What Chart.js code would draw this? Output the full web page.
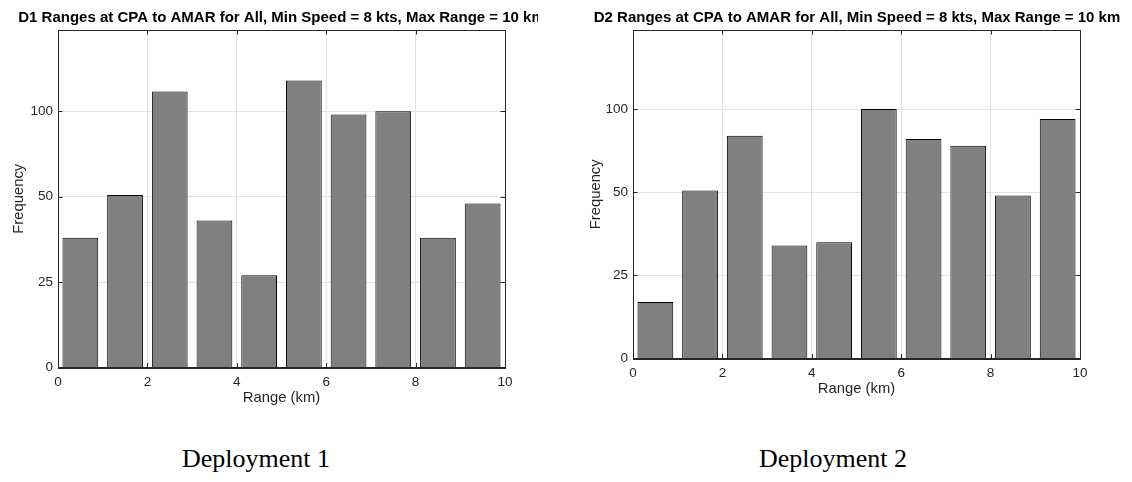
<!DOCTYPE html>
<html>
<head>
<meta charset="utf-8">
<script src="https://cdn.jsdelivr.net/npm/chart.js@4.4.1/dist/chart.umd.min.js"></script>
<style>
  html, body { margin: 0; padding: 0; background: #fff; width: 1132px; height: 482px; overflow: hidden; position: relative; }
  .panel { position: absolute; top: 0; overflow: hidden; height: 420px; }
  .caption { position: absolute; top: 444px; transform: translateX(-50%); white-space: nowrap;
             font-family: "Liberation Serif", "Times New Roman", serif; font-size: 26px; color: #000; }
</style>
</head>
<body>
<div class="panel" style="left:0; width:538px;"><canvas id="d1" width="563" height="420"></canvas></div>
<div class="panel" style="left:575px; width:557px;"><canvas id="d2" width="564" height="420"></canvas></div>
<div class="caption" style="left:256px;">Deployment 1</div>
<div class="caption" style="left:833px;">Deployment 2</div>

<script>
// histogram bins (km) and counts
const binCenters = [0.5, 1.5, 2.5, 3.5, 4.5, 5.5, 6.5, 7.5, 8.5, 9.5];
const d1Counts = [38, 51, 123, 43, 27, 136, 98, 100, 38, 48];
const d2Counts = [17, 51, 84, 34, 35, 100, 82, 78, 49, 94];

const xTicks = [0, 2, 4, 6, 8, 10];
const yTicks = [0, 25, 50, 100];
// the frequency axis is stretched: these values sit at equal spacing
const yAnchors = [0, 25, 50, 100, 200];

const d1Title = 'D1 Ranges at CPA to AMAR for All, Min Speed = 8 kts, Max Range = 10 km';
const d2Title = 'D2 Ranges at CPA to AMAR for All, Min Speed = 8 kts, Max Range = 10 km';

const INK = '#262626';
const FONT = '"Liberation Sans", Arial, Helvetica, sans-serif';

// linear scale whose spacing follows yAnchors piece by piece
class StretchScale extends Chart.LinearScale {
  toUnits(v) {
    for (let i = 1; i < yAnchors.length; i++) {
      if (v <= yAnchors[i] || i === yAnchors.length - 1) {
        const a = yAnchors[i - 1], b = yAnchors[i];
        return i - 1 + (v - a) / (b - a);
      }
    }
    return 0;
  }
  fromUnits(u) {
    const i = Math.max(0, Math.min(yAnchors.length - 2, Math.floor(u)));
    return yAnchors[i] + (u - i) * (yAnchors[i + 1] - yAnchors[i]);
  }
  getPixelForValue(v) {
    return this.getPixelForDecimal(this.toUnits(v) / this.toUnits(this.max));
  }
  getValueForPixel(p) {
    return this.fromUnits(this.getDecimalForPixel(p) * this.toUnits(this.max));
  }
  buildTicks() {
    return yTicks.map(v => ({ value: v }));
  }
}
StretchScale.id = 'stretch';
StretchScale.defaults = {};
Chart.register(StretchScale);

// MATLAB style box with inward tick marks
const boxPlugin = {
  id: 'box',
  beforeDatasetsDraw(chart) {
    const { ctx, chartArea: a, scales: { x, y } } = chart;
    ctx.save();
    ctx.strokeStyle = INK;
    ctx.lineWidth = 1;
    ctx.beginPath();
    x.ticks.forEach((t, i) => {
      const px = Math.round(x.getPixelForTick(i)) + 0.5;
      ctx.moveTo(px, a.bottom); ctx.lineTo(px, a.bottom - 4.5);
      ctx.moveTo(px, a.top); ctx.lineTo(px, a.top + 4.5);
    });
    y.ticks.forEach((t, i) => {
      const py = Math.round(y.getPixelForTick(i)) + 0.5;
      ctx.moveTo(a.left, py); ctx.lineTo(a.left + 4.5, py);
      ctx.moveTo(a.right, py); ctx.lineTo(a.right - 4.5, py);
    });
    ctx.stroke();
    ctx.restore();
  },
  afterDraw(chart) {
    const { ctx, chartArea: a } = chart;
    ctx.save();
    ctx.strokeStyle = INK;
    ctx.lineWidth = 1;
    ctx.strokeRect(Math.round(a.left) + 0.5, Math.round(a.top) + 0.5,
                   Math.round(a.right - a.left), Math.round(a.bottom - a.top));
    ctx.restore();
  }
};

function makeHist(id, title, counts, bottomPad, rightWidth, titleLeftPad) {
  return new Chart(document.getElementById(id), {
    type: 'bar',
    data: {
      datasets: [{
        data: binCenters.map((c, i) => ({ x: c, y: counts[i] })),
        backgroundColor: '#808080',
        borderColor: '#000',
        borderWidth: 1,
        barPercentage: 0.8,
        categoryPercentage: 1
      }]
    },
    options: {
      responsive: false,
      animation: false,
      layout: { padding: { left: 0, right: 0, top: 0, bottom: bottomPad } },
      plugins: {
        legend: { display: false },
        tooltip: { enabled: false },
        title: {
          display: true, text: title, color: '#000',
          font: { family: FONT, size: 15, weight: 'bold' },
          padding: { top: 9, bottom: 3 }
        }
      },
      scales: {
        x: {
          type: 'linear', min: 0, max: 10, offset: false,
          afterBuildTicks: s => { s.ticks = xTicks.map(v => ({ value: v })); },
          afterFit: s => { s.height = 42; },
          grid: { color: '#e3e3e3', offset: false, drawTicks: false },
          border: { color: INK },
          ticks: { color: INK, padding: 6.4, maxRotation: 0, font: { family: FONT, size: 13.5 } },
          title: { display: true, text: 'Range (km)', color: INK, padding: { top: 0, bottom: 3.1 },
                   font: { family: FONT, size: 14.8 } }
        },
        y: {
          type: 'stretch', min: 0, max: 195,
          afterFit: s => { s.width = 58; },
          grid: { color: '#e3e3e3', drawTicks: false },
          border: { color: INK },
          ticks: { color: INK, padding: 5, callback: v => String(v), font: { family: FONT, size: 13.5 } },
          title: { display: true, text: 'Frequency', color: INK, padding: { top: titleLeftPad, bottom: 0 },
                   font: { family: FONT, size: 14.8 } }
        },
        // empty right-hand spacer so the title centres over the plot
        yRight: {
          position: 'right', type: 'linear',
          afterFit: s => { s.width = rightWidth; },
          grid: { display: false, drawTicks: false },
          border: { display: false },
          ticks: { display: false }
        }
      }
    },
    plugins: [boxPlugin]
  });
}

makeHist('d1', d1Title, d1Counts, 10.5, 58, 10);
makeHist('d2', d2Title, d2Counts, 19.4, 59, 12.3);
</script>
</body>
</html>
